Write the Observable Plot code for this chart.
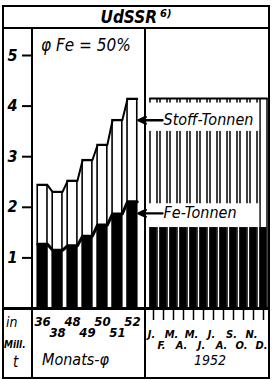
<!DOCTYPE html>
<html><head><meta charset="utf-8">
<script src="https://cdn.jsdelivr.net/npm/d3@7"></script>
<script src="https://cdn.jsdelivr.net/npm/@observablehq/plot@0.6"></script>
<style>
body{margin:0;background:#fff;}
#wrap{position:relative;width:272px;height:380px;background:#fff;overflow:hidden;font-family:'DejaVu Sans Condensed','Liberation Sans Narrow','DejaVu Sans',sans-serif;font-style:italic;color:#000;}
.ln{position:absolute;background:#000;z-index:5;}
.t{position:absolute;white-space:nowrap;line-height:1;}
.plot{position:absolute;top:29px;}
g[aria-label="y-axis tick"] path{stroke-width:2;}
</style></head><body>
<div id="wrap">
  <div class="ln" style="left:2px;top:5px;width:268px;height:2px"></div>
  <div class="ln" style="left:2px;top:377px;width:268px;height:2px"></div>
  <div class="ln" style="left:2px;top:5px;width:2px;height:374px"></div>
  <div class="ln" style="left:268px;top:5px;width:2px;height:374px"></div>
  <div class="ln" style="left:2px;top:27px;width:268px;height:2px"></div>
  <div class="ln" style="left:31px;top:27px;width:2px;height:352px"></div>
  <div class="ln" style="left:144px;top:27px;width:2px;height:352px"></div>
  <div class="ln" style="left:2px;top:307px;width:268px;height:2.5px"></div>
  <div class="t" id="title" style="left:0;width:272px;text-align:center;top:9px;font-size:17px;font-weight:bold;">UdSSR<span style="font-size:11px;position:relative;top:-6px;margin-left:3px">6)</span></div>
  <div class="t" style="left:41px;top:37px;font-size:17px;">φ Fe = 50%</div>
  <div class="t" style="left:6px;top:315px;font-size:14px;">in</div>
  <div class="t" style="left:4px;top:340px;font-size:10px;font-weight:bold;">Mill.</div>
  <div class="t" style="left:13px;top:355px;font-size:15px;">t</div>
  <div class="t" style="left:42px;top:352px;font-size:16px;">Monats-φ</div>
  <div class="t" style="left:194px;top:353px;font-size:14px;">1952</div>
  <div class="plot" id="left" style="left:3px"></div>
  <div class="plot" id="right" style="left:133px"></div>
</div>
<script>
// ---- data ----
const years = ["36", "38", "48", "49", "50", "51", "52"];
const stoffYears = [2.44, 2.30, 2.52, 2.93, 3.23, 3.72, 4.14];
const feYears = [1.27, 1.15, 1.24, 1.43, 1.65, 1.87, 2.11];
const months = ["J.", "F.", "M.", "A.", "M.", "J.", "J.", "A.", "S.", "O.", "N.", "D."];
const stoffMonths = [4.15, 4.15, 4.15, 4.15, 4.15, 4.15, 4.15, 4.15, 4.15, 4.15, 4.15, 4.15];
const feMonths = [1.60, 1.60, 1.60, 1.60, 1.60, 1.60, 1.60, 1.60, 1.60, 1.60, 1.60, 1.60];
const yTicks = [1, 2, 3, 4, 5];
const seriesLabels = ["Stoff-Tonnen", "Fe-Tonnen"];

// ---- layout ----
const FONT = "'DejaVu Sans Condensed','Liberation Sans Narrow','DejaVu Sans',sans-serif";
const H = 349, MT = 26, MB = 70;
const halfL = 0.325, halfR = 0.35;
const noteLayout = [
  {y: 3.72, y1: 3.50, y2: 4.06, tail: 0.9, tip: -1.5},
  {y: 1.88, y1: 1.60, y2: 2.07, tail: 0.9, tip: -1.5}
];
const notes = seriesLabels.map((label, k) => ({label, ...noteLayout[k]}));

const baseStyle = {background: "transparent", overflow: "visible", fontFamily: FONT, fontStyle: "italic", fontWeight: "bold", fontSize: "16px", color: "black"};

const iY = years.map((d, i) => i);
const tops = (vals, h) => vals.flatMap((v, i) => [{x: i - h, y: v}, {x: i + h, y: v}]);

const left = Plot.plot({
  width: 142, height: H, marginLeft: 29, marginRight: 3, marginTop: MT, marginBottom: MB,
  style: baseStyle,
  x: {type: "linear", domain: [-0.675, 6.675], axis: null},
  y: {domain: [0, 5], ticks: yTicks, tickSize: 10, tickPadding: 5, label: null, tickFormat: d => String(d)},
  marks: [
    Plot.rect(iY, {x1: i => i - halfL, x2: i => i + halfL, y1: () => 0, y2: i => stoffYears[i], fill: "white", stroke: "black", strokeWidth: 1.6}),
    Plot.line(tops(stoffYears, halfL), {x: "x", y: "y", stroke: "black", strokeWidth: 2}),
    Plot.rect(iY, {x1: i => i - halfL, x2: i => i + halfL, y1: () => 0, y2: i => feYears[i], fill: "black"}),
    Plot.line(tops(feYears, halfL), {x: "x", y: "y", stroke: "black", strokeWidth: 3}),
    Plot.text(iY.filter(i => i % 2 === 0), {x: i => i, y: () => 0, text: i => years[i], dy: 17, lineAnchor: "bottom", fontSize: 13}),
    Plot.text(iY.filter(i => i % 2 === 1), {x: i => i, y: () => 0, text: i => years[i], dy: 28, lineAnchor: "bottom", fontSize: 13})
  ]
});
document.getElementById("left").append(left);

const iM = months.map((d, i) => i);
const edges = iM.flatMap(i => [i - halfR, i + halfR]);
const right = Plot.plot({
  width: 135, height: H, marginLeft: 15, marginRight: 0, marginTop: MT, marginBottom: MB,
  style: baseStyle,
  x: {type: "linear", domain: [-0.5, 11.5], axis: null},
  y: {domain: [0, 5], axis: null},
  marks: [
    Plot.ruleX(edges, {x: d => d, y1: () => 0, y2: (d) => stoffMonths[Math.round(d)], stroke: "black", strokeWidth: 1.5}),
    Plot.line(tops(stoffMonths, halfR), {x: "x", y: "y", stroke: "black", strokeWidth: 2}),
    Plot.rect(iM, {x1: i => i - halfR, x2: i => i + halfR, y1: () => 0, y2: i => feMonths[i], fill: "black"}),
    Plot.rect(notes, {x1: () => -0.5, x2: () => 10.62, y1: "y1", y2: "y2", fill: "white"}),
    Plot.arrow(notes, {x1: "tail", x2: "tip", y1: "y", y2: "y", stroke: "black", strokeWidth: 2.4, headLength: 10, headAngle: 50}),
    Plot.text(notes, {x: "tail", y: "y", text: "label", textAnchor: "start", dx: 1, fontSize: 16, fontWeight: "normal"}),
    Plot.ruleX(iM, {x: i => i, y1: () => 0, y2: () => 0, insetBottom: -12, stroke: "black", strokeWidth: 1.5}),
    Plot.text(iM.filter(i => i % 2 === 0), {x: i => i, y: () => 0, text: i => months[i], dx: -2, dy: 29, lineAnchor: "bottom", fontSize: 11}),
    Plot.text(iM.filter(i => i % 2 === 1), {x: i => i, y: () => 0, text: i => months[i], dx: -2, dy: 40, lineAnchor: "bottom", fontSize: 11})
  ]
});
document.getElementById("right").append(right);
</script>
</body></html>
